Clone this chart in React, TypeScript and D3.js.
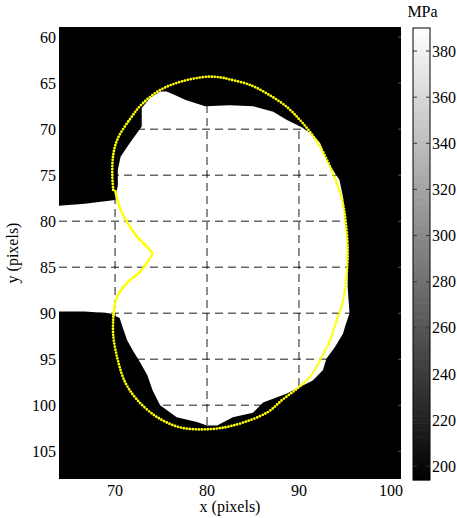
import React from "react";
import * as d3 from "d3";

// ---- axis ticks ----
const xTicks = [70, 80, 90, 100];
const yTicks = [60, 65, 70, 75, 80, 85, 90, 95, 100, 105];
const cTicks = [200, 220, 240, 260, 280, 300, 320, 340, 360, 380];
const xDomain = [63.9, 101.1];
const yDomain = [58.9, 108.0];
const cDomain = [194, 390];

// ---- white (high stress) region outline, data units (x, y) ----
const regionX = [72.9, 73.8, 74.9, 75.6, 76.5, 77.6, 79.8, 82.5, 85.0, 87.2, 88.7, 90.3, 91.5, 92.3, 93.0, 94.4, 94.8, 95.0, 95.3, 95.3, 95.5, 95.0, 94.8, 93.9, 93.0, 92.6, 91.5, 90.1, 88.7, 86.1, 85.0, 82.8, 81.1, 80.0, 78.9, 76.7, 74.9, 74.1, 73.5, 72.7, 71.9, 71.3, 70.75, 70.5, 69.4, 66.7, 63.0, 63.0, 66.7, 70.0, 70.3, 70.3, 70.6, 71.6, 72.9];
const regionY = [67.7, 66.6, 65.9, 65.9, 66.3, 66.8, 67.5, 67.4, 67.5, 68.1, 69.0, 69.8, 70.6, 71.5, 73.4, 75.5, 77.4, 79.9, 82.8, 87.2, 90.0, 91.5, 92.2, 93.7, 94.9, 96.2, 97.3, 98.0, 98.7, 99.7, 100.8, 101.3, 102.2, 102.2, 101.8, 101.3, 100.0, 98.4, 96.7, 95.3, 94.0, 92.9, 91.3, 90.5, 90.0, 89.8, 89.8, 78.4, 78.1, 77.7, 76.1, 74.4, 73.0, 71.5, 69.7];

// ---- yellow boundary contour (dotted part), data units ----
const contourX = [69.8, 69.7, 69.8, 70.3, 71.7, 72.9, 74.9, 77.3, 80.1, 81.6, 82.5, 84.7, 86.8, 88.7, 90.1, 91.2, 92.3, 93.7, 94.7, 95.1, 95.3, 95.2, 94.8, 94.1, 93.4, 92.3, 91.2, 89.9, 88.2, 86.5, 82.8, 80.0, 77.1, 74.6, 72.4, 71.1, 70.3, 69.8, 69.8];
const contourY = [76.6, 75.0, 72.8, 71.0, 68.8, 67.3, 65.75, 64.8, 64.3, 64.4, 64.6, 65.2, 66.3, 67.6, 69.0, 70.3, 71.9, 74.8, 77.7, 80.2, 83.1, 85.6, 88.6, 90.8, 92.9, 95.1, 96.9, 98.1, 99.4, 100.8, 102.2, 102.6, 102.4, 101.3, 99.4, 97.5, 95.1, 92.4, 90.5];

// ---- notch of the contour (solid), data units ----
const notchX = [69.8, 70.2, 71.3, 72.7, 73.8, 74.1, 73.6, 72.4, 71.3, 70.5, 70.0, 69.8];
const notchY = [90.5, 88.25, 86.7, 85.5, 84.0, 83.5, 82.9, 81.7, 80.1, 78.5, 76.6, 76.6];

const FONT = "'Liberation Serif', 'Times New Roman', serif";

export default function App() {
  const W = 457, H = 518;
  const x = d3.scaleLinear().domain(xDomain).range([59, 401]);
  const y = d3.scaleLinear().domain(yDomain).range([27, 479]);
  const c = d3.scaleLinear().domain(cDomain).range([480, 28]);
  const gray = d3.scaleLinear<string>().domain(cDomain).range(["#000000", "#ffffff"]);

  const regionPts: [number, number][] = regionX.map((v, i) => [x(v), y(regionY[i])]);
  const regionPath = d3.line().curve(d3.curveLinearClosed)(regionPts) || "";

  const contourPts: [number, number][] = contourX.map((v, i) => [x(v), y(contourY[i])]);
  const contourPath = d3.line().curve(d3.curveCatmullRom.alpha(0.5))(contourPts) || "";

  const notchA: [number, number][] = notchX.slice(0, 6).map((v, i) => [x(v), y(notchY[i])]);
  const notchB: [number, number][] = notchX.slice(5, 11).map((v, i) => [x(v), y(notchY[i + 5])]);
  const nl = d3.line().curve(d3.curveCatmullRom.alpha(0.5));

  const cbX = 413, cbW = 17;
  const nSteps = 64;
  const steps = d3.range(nSteps).map((i) => cDomain[0] + ((cDomain[1] - cDomain[0]) * i) / nSteps);
  const stepH = (c(cDomain[0]) - c(cDomain[1])) / nSteps;

  const [x0, x1] = x.range();
  const [y0, y1] = y.range();

  return (
    <svg width={W} height={H} style={{ position: "absolute", left: 0, top: 0, background: "#fff" }} fontFamily={FONT}>
      <defs>
        <clipPath id="plotclip">
          <rect x={x0} y={y0} width={x1 - x0} height={y1 - y0} />
        </clipPath>
      </defs>
      <rect x={x0} y={y0} width={x1 - x0} height={y1 - y0} fill="#000" />
      <g clipPath="url(#plotclip)">
        <path d={regionPath} fill="#fff" />
        {xTicks.map((t) => (
          <line key={"gx" + t} x1={x(t)} x2={x(t)} y1={y0} y2={y1} stroke="rgba(0,0,0,0.6)" strokeWidth={1.5} strokeDasharray="8,5" />
        ))}
        {yTicks.map((t) => (
          <line key={"gy" + t} x1={x0} x2={x1} y1={y(t)} y2={y(t)} stroke="rgba(0,0,0,0.6)" strokeWidth={1.5} strokeDasharray="8,5" />
        ))}
        {yTicks.map((t) => (
          <line key={"ry" + t} x1={x1 - 3} x2={x1} y1={y(t)} y2={y(t)} stroke="#555" strokeWidth={1} />
        ))}
        <path d={contourPath} fill="none" stroke="#ffff00" strokeWidth={2.8} strokeLinecap="round" strokeDasharray="0 3" />
        <path d={nl(notchA) || ""} fill="none" stroke="#ffff00" strokeWidth={2.4} />
        <path d={nl(notchB) || ""} fill="none" stroke="#ffff00" strokeWidth={2.4} />
      </g>

      {yTicks.map((t) => (
        <text key={"yl" + t} x={56} y={y(t)} dy="0.35em" textAnchor="end" fontSize={16}>{t}</text>
      ))}
      {xTicks.map((t) => (
        <text key={"xl" + t} x={x(t)} y={496} textAnchor="middle" fontSize={16}>{t}</text>
      ))}
      <text x={230} y={512} textAnchor="middle" fontSize={16}>x (pixels)</text>
      <text transform={`translate(18,${(y0 + y1) / 2}) rotate(-90)`} textAnchor="middle" fontSize={16}>y (pixels)</text>

      {/* colorbar */}
      {steps.map((v, i) => (
        <rect key={"cb" + i} x={cbX} y={c(v) - stepH - 0.3} width={cbW} height={stepH + 0.6} fill={gray(v + (cDomain[1] - cDomain[0]) / nSteps / 2)} />
      ))}
      <rect x={cbX} y={c(cDomain[1])} width={cbW} height={c(cDomain[0]) - c(cDomain[1])} fill="none" stroke="#000" strokeWidth={1} />
      {cTicks.map((t) => (
        <g key={"ct" + t}>
          <line x1={cbX} x2={cbX + 4} y1={c(t)} y2={c(t)} stroke="#333" strokeWidth={1} />
          <line x1={cbX + cbW - 4} x2={cbX + cbW} y1={c(t)} y2={c(t)} stroke="#333" strokeWidth={1} />
          <text x={cbX + cbW + 2} y={c(t)} dy="0.35em" fontSize={16}>{t}</text>
        </g>
      ))}
      <text x={cbX + cbW / 2 + 1} y={17} textAnchor="middle" fontSize={16}>MPa</text>
    </svg>
  );
}
